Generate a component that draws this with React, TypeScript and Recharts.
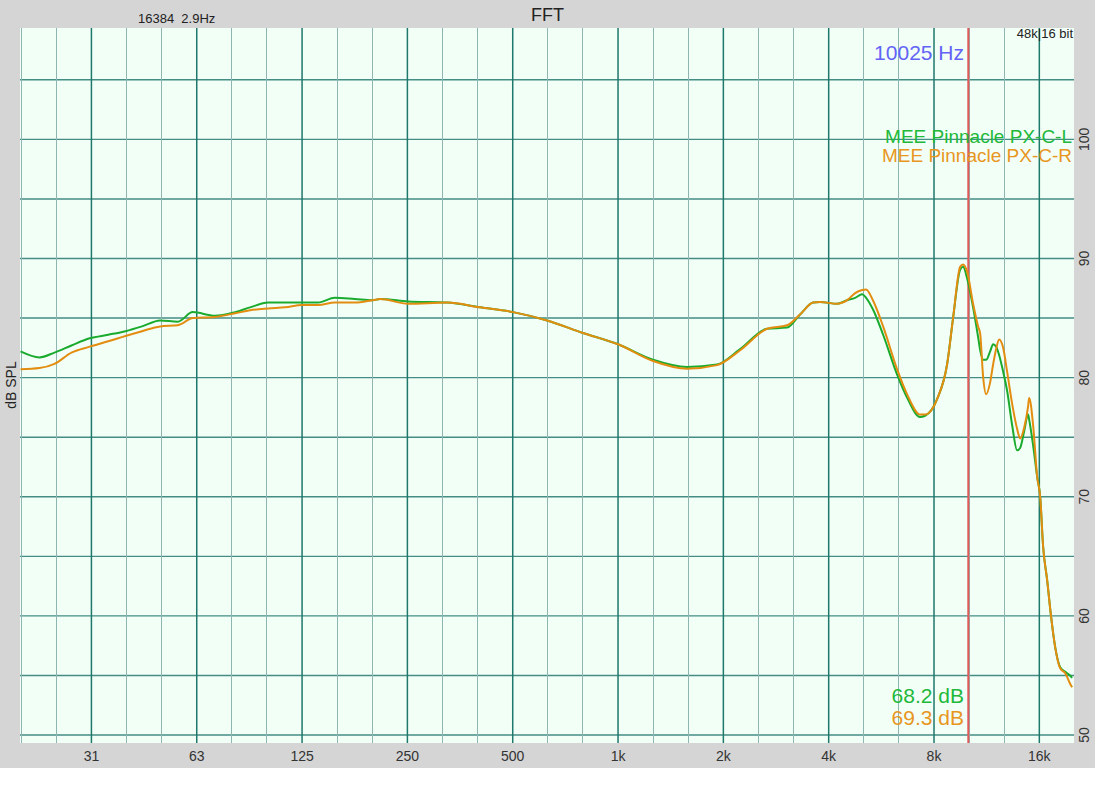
import React from "react";
import { LineChart, Line, XAxis, YAxis, CartesianGrid, ReferenceLine } from "recharts";

const freqs = [
  19.6, 22.2, 24.5, 27.4, 30.9, 34.9, 39.1, 43.6, 49.1, 55.2, 60.9, 70.4, 80.4, 88.8,
  100, 112, 125, 139, 155, 177, 199, 209, 251, 325, 403, 501, 627, 794, 1000, 1259,
  1575, 1918, 2233, 2667, 3042, 3313, 3610, 3780, 4227, 4516, 4761, 4984, 5116, 5359,
  5723, 6276, 6704, 7302, 7544, 8164, 8718, 9069, 9500, 9688, 9946, 10346, 10694,
  10840, 11050, 11272, 11575, 11803, 12040, 12279, 12610, 12943, 13380, 13822, 14100,
  14480, 14863, 14960, 15360, 15771, 16089, 16405, 16844, 17293, 17754, 18351, 18962,
  19591, 19851,
];

// MEE Pinnacle PX-C-L (green)
const splLeft = [
  82.2, 81.7, 82.1, 82.7, 83.3, 83.6, 83.9, 84.3, 84.8, 84.7, 85.5, 85.2, 85.5, 85.9,
  86.3, 86.3, 86.3, 86.3, 86.7, 86.6, 86.5, 86.6, 86.4, 86.3, 85.9, 85.5, 84.8, 83.75,
  82.8, 81.5, 80.9, 81.1, 82.4, 84.1, 84.2, 85.3, 86.3, 86.35, 86.2, 86.5, 86.7, 87.0,
  86.7, 85.7, 83.6, 80.25, 78.3, 76.7, 76.8, 78.2, 81.1, 85.0, 89.05, 89.3, 88.35,
  85.9, 83.4, 82.3, 81.5, 81.5, 82.2, 82.8, 82.6, 81.9, 80.5, 78.9, 76.0, 73.9, 74.1,
  75.5, 76.9, 76.5, 74.3, 71.7, 70.0, 65.8, 63.0, 59.9, 57.4, 55.7, 55.3, 55.0, 54.8,
];

// MEE Pinnacle PX-C-R (orange)
const splRight = [
  80.7, 80.8, 81.15, 82.1, 82.6, 83.05, 83.5, 83.9, 84.3, 84.4, 85.0, 85.1, 85.4, 85.65,
  85.8, 85.9, 86.1, 86.1, 86.3, 86.3, 86.5, 86.6, 86.2, 86.3, 85.9, 85.5, 84.8, 83.75,
  82.8, 81.4, 80.75, 81.05, 82.3, 84.1, 84.4, 85.3, 86.3, 86.35, 86.2, 86.5, 87.1, 87.35,
  87.4, 86.45, 84.3, 80.7, 78.6, 76.9, 76.9, 78.2, 81.1, 85.0, 89.3, 89.5, 88.9,
  86.2, 84.3, 83.7, 80.1, 78.6, 79.6, 81.1, 82.4, 83.2, 82.5, 80.5, 77.8, 75.7, 74.9,
  75.8, 77.6, 78.3, 76.0, 71.7, 70.0, 65.8, 63.0, 59.9, 57.4, 55.6, 55.2, 54.3, 54.0,
];

const seriesNames = ["MEE Pinnacle PX-C-L", "MEE Pinnacle PX-C-R"];
const levels = ["68.2 dB", "69.3 dB"];

const octaveTicks = [31.25, 62.5, 125, 250, 500, 1000, 2000, 4000, 8000, 16000];
const octaveLabels = ["31", "63", "125", "250", "500", "1k", "2k", "4k", "8k", "16k"];
const thirdOctaves = [
  19.69, 24.8, 31.25, 39.37, 49.61, 62.5, 78.75, 99.21, 125, 157.5, 198.4, 250, 315,
  396.9, 500, 630, 793.7, 1000, 1260, 1587, 2000, 2520, 3175, 4000, 5040, 6350, 8000,
  10079, 12699, 16000,
];
const dbGrid = [50, 55, 60, 65, 70, 75, 80, 85, 90, 95, 100, 105];
const dbTicks = [50, 60, 70, 80, 90, 100];
const cursorHz = 10025;

const GREEN = "#1aab2e";
const ORANGE = "#e38d10";
const FONT = "'Liberation Sans', Arial, sans-serif";

const data = freqs.map((f, i) => ({ freq: f, left: splLeft[i], right: splRight[i] }));

function DbTick(props: any) {
  const { x, y, payload } = props;
  const cx = x + 10;
  return (
    <text
      x={cx}
      y={y}
      transform={`rotate(-90 ${cx} ${y})`}
      textAnchor="middle"
      dominantBaseline="central"
      fontSize={14}
      fontFamily={FONT}
      fill="#333"
    >
      {payload.value}
    </text>
  );
}

const abs = (s: React.CSSProperties): React.CSSProperties => ({
  position: "absolute",
  fontFamily: FONT,
  lineHeight: 1,
  whiteSpace: "pre",
  ...s,
});

export default function App() {
  return (
    <div style={{ position: "absolute", left: 0, top: 0, width: 1095, height: 768, background: "#d5d5d5" }}>
      <LineChart width={1095} height={768} data={data} margin={{ top: 28, right: 0, bottom: 0, left: 20 }}>
        <CartesianGrid fill="#f2fff7" fillOpacity={1} horizontal={false} vertical={false} stroke="none" />
        {dbGrid.map((v) => (
          <ReferenceLine key={"h" + v} y={v} stroke="#448d84" strokeWidth={1.4} />
        ))}
        {thirdOctaves.map((f) => {
          const major = octaveTicks.includes(f);
          return major ? (
            <ReferenceLine key={"v" + f} x={f} stroke="#1e786c" strokeWidth={1.5} />
          ) : (
            <ReferenceLine key={"v" + f} x={f} stroke="#8fb5b0" strokeWidth={1} shapeRendering="crispEdges" />
          );
        })}
        <XAxis
          dataKey="freq"
          type="number"
          scale="log"
          domain={[19.53, 20100]}
          allowDataOverflow
          ticks={octaveTicks}
          tickFormatter={(v: number) => octaveLabels[octaveTicks.indexOf(v)] ?? ""}
          tickLine={false}
          axisLine={false}
          height={25}
          tick={{ fontSize: 14, fontFamily: FONT, fill: "#333" }}
        />
        <YAxis
          orientation="right"
          type="number"
          domain={[49.33, 109.35]}
          allowDataOverflow
          ticks={dbTicks}
          tickLine={false}
          axisLine={false}
          tickSize={0}
          tickMargin={0}
          width={21}
          tick={<DbTick />}
        />
        <ReferenceLine x={cursorHz} stroke="#e05a5a" strokeWidth={2} />
        <Line
          type="monotone"
          dataKey="left"
          name={seriesNames[0]}
          stroke={GREEN}
          strokeWidth={2}
          dot={false}
          isAnimationActive={false}
        />
        <Line
          type="monotone"
          dataKey="right"
          name={seriesNames[1]}
          stroke={ORANGE}
          strokeWidth={2}
          dot={false}
          isAnimationActive={false}
        />
      </LineChart>

      <div style={abs({ left: 0, top: 6, width: 1095, textAlign: "center", fontSize: 18, color: "#222" })}>FFT</div>
      <div style={abs({ left: 138, top: 12, fontSize: 13, color: "#222" })}>16384  2.9Hz</div>
      <div style={abs({ right: 22, top: 27, fontSize: 13, color: "#222" })}>48k|16 bit</div>
      <div style={abs({ right: 131, top: 42, fontSize: 21, color: "#6363f5" })}>{cursorHz} Hz</div>
      <div style={abs({ right: 23, top: 127, fontSize: 19, color: "#22b83a", textAlign: "right" })}>{seriesNames[0]}</div>
      <div style={abs({ right: 23, top: 146, fontSize: 19, color: "#e8961e", textAlign: "right" })}>{seriesNames[1]}</div>
      <div style={abs({ right: 131, top: 685, fontSize: 21, color: "#22b83a", textAlign: "right" })}>{levels[0]}</div>
      <div style={abs({ right: 131, top: 707, fontSize: 21, color: "#e8961e", textAlign: "right" })}>{levels[1]}</div>
      <div
        style={abs({
          left: -19,
          top: 377,
          width: 60,
          height: 16,
          lineHeight: "16px",
          textAlign: "center",
          fontSize: 14,
          color: "#222",
          transform: "rotate(-90deg)",
        })}
      >
        dB SPL
      </div>
    </div>
  );
}
